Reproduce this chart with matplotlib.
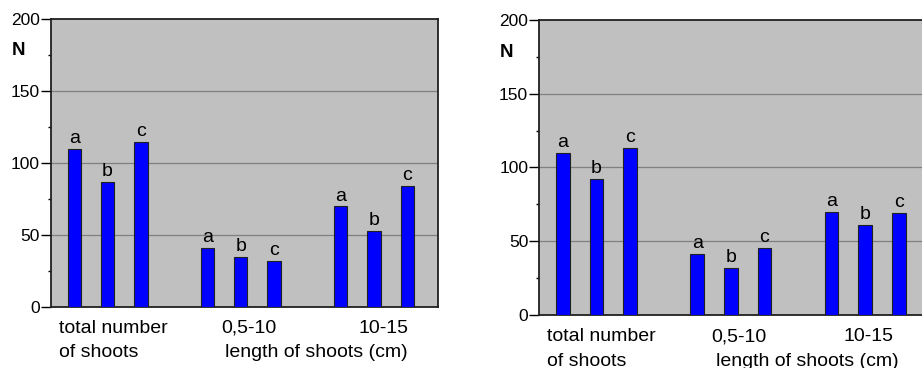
import matplotlib
matplotlib.use("Agg")
import matplotlib.pyplot as plt
from matplotlib.ticker import MultipleLocator

plt.rcParams['font.family'] = ['Liberation Sans', 'DejaVu Sans']

# bar positions: three groups of three bars
positions = [0, 1, 2, 4, 5, 6, 8, 9, 10]
letters = ["a", "b", "c", "a", "b", "c", "a", "b", "c"]
left_values = [110, 87, 115, 41, 35, 32, 70, 53, 84]
right_values = [110, 92, 113, 41, 32, 45, 70, 61, 69]
group_labels = ["0,5-10", "10-15"]
yticks = [0, 50, 100, 150, 200]

FS = 14

fig = plt.figure(figsize=(9.22, 3.68), dpi=100)

def draw_panel(rect, values, tenfifteen_x):
    ax = fig.add_axes(rect)
    ax.set_facecolor("#c0c0c0")
    ax.bar(positions, values, width=0.4, color="#0000ff",
           edgecolor="#202020", linewidth=0.8, zorder=3)
    for x, v, t in zip(positions, values, letters):
        ax.text(x, v + 4, t, ha="center", va="baseline", fontsize=FS)
    ax.set_xlim(-0.70, 10.92)
    ax.set_ylim(0, 200)
    ax.set_yticks(yticks)
    ax.yaxis.set_minor_locator(MultipleLocator(25))
    ax.set_xticks([])
    ax.tick_params(axis="y", which="major", direction="out", length=7,
                   width=1, labelsize=12.5, pad=1)
    ax.tick_params(axis="y", which="minor", direction="out", length=2, width=1)
    for y in [50, 100, 150]:
        ax.axhline(y, color="#808080", linewidth=0.9, zorder=1)
    for s in ax.spines.values():
        s.set_linewidth(1.3)
        s.set_color("#202020")
    ax.text(-1.69, 178, "N", ha="center", va="center", fontsize=13.5,
            fontweight="bold")
    ax.text(-0.46, -18, "total number", ha="left", va="baseline", fontsize=FS)
    ax.text(-0.46, -34.6, "of shoots", ha="left", va="baseline", fontsize=FS)
    ax.text(5.23, -18, group_labels[0], ha="center", va="baseline", fontsize=FS)
    ax.text(tenfifteen_x, -18, group_labels[1], ha="center", va="baseline",
            fontsize=FS)
    ax.text(7.28, -34.6, "length of shoots (cm)", ha="center", va="baseline",
            fontsize=FS)
    return ax

draw_panel([51 / 922, 61 / 368, 387 / 922, 287.7 / 368], left_values, 9.27)
draw_panel([539.3 / 922, 53.3 / 368, 390.4 / 922, 294.7 / 368], right_values, 9.1)

fig.savefig("out.png", dpi=100)
